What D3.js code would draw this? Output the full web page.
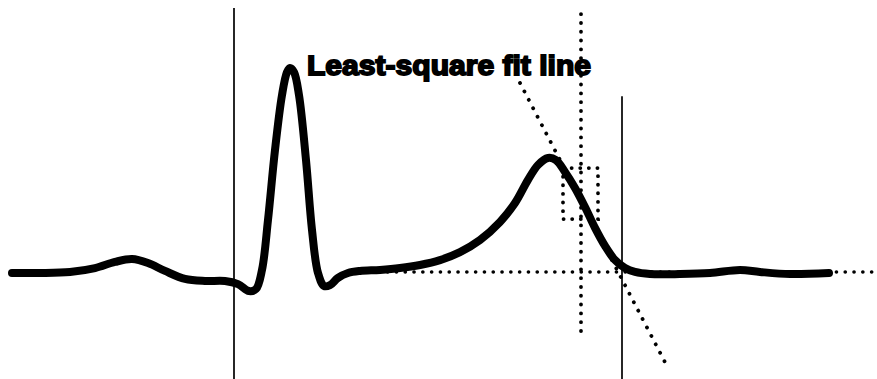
<!DOCTYPE html>
<html>
<head>
<meta charset="utf-8">
<script src="https://cdn.jsdelivr.net/npm/d3@7"></script>
<style>
  html, body { margin: 0; padding: 0; background: #fff; }
  svg { display: block; }
</style>
</head>
<body>
<svg id="chart" width="877" height="379"></svg>
<script>
// ECG trace: time (ms) and amplitude (normalised, R peak = 1)
const timeMs = [0,28,58,83,103,120,136,153,173,193,213,226,237,244,250,256,263,270,275,278,282,287,294,300,306,312,318,326,336,348,368,388,408,428,448,468,488,503,516,526,536,544,553,563,573,583,593,603,613,623,638,668,698,728,748,778,817];
const amplitude = [0,0,0.005,0.024,0.054,0.068,0.049,0.01,-0.029,-0.039,-0.039,-0.054,-0.088,-0.078,0.015,0.259,0.6,0.868,0.98,1.0,0.98,0.868,0.551,0.21,0,-0.063,-0.059,-0.024,0,0.01,0.015,0.024,0.039,0.063,0.102,0.161,0.249,0.341,0.454,0.527,0.561,0.551,0.493,0.415,0.322,0.22,0.132,0.063,0.024,0.005,-0.005,-0.005,0,0.015,0.005,-0.005,0];

// Annotation markers
const solidMarkersMs = [222, 610];          // vertical solid lines
const solidMarkerTop = [1.293, 0.862];      // their top amplitude
const dottedMarkerMs = [569];               // vertical dotted line
const dottedMarkerRange = [1.263, -0.302];
const baselineRange = [358, 865];           // horizontal dotted baseline (ms)
const baselineLevel = [0.005];
const fitLineMs = [508, 655];               // least-square fit line ends
const fitLineAmp = [0.927, -0.454];
const boxMs = [551, 586];
const boxAmp = [0.512, 0.263];
const labelText = ["Least-square fit line"];
const labelPos = [295, 0.966];

const svg = d3.select("#chart");
const x = d3.scaleLinear().domain([0, 817]).range([12, 829]);
const y = d3.scaleLinear().domain([0, 1]).range([273, 68]);
const yBottom = -0.52;

const dotted = "0.1 8.7";

// vertical solid lines
svg.selectAll("line.solid").data(solidMarkersMs).enter().append("line")
  .attr("class", "solid")
  .attr("x1", d => x(d)).attr("x2", d => x(d))
  .attr("y1", (d, i) => y(solidMarkerTop[i])).attr("y2", y(yBottom))
  .attr("stroke", "#000").attr("stroke-width", 1.7);

// vertical dotted line
svg.selectAll("line.vdot").data(dottedMarkerMs).enter().append("line")
  .attr("class", "vdot")
  .attr("x1", d => x(d)).attr("x2", d => x(d))
  .attr("y1", y(dottedMarkerRange[0])).attr("y2", y(dottedMarkerRange[1]))
  .attr("stroke", "#000").attr("stroke-width", 3.8)
  .attr("stroke-linecap", "round").attr("stroke-dasharray", dotted);

// horizontal dotted baseline
svg.selectAll("line.hdot").data(baselineLevel).enter().append("line")
  .attr("class", "hdot")
  .attr("x1", x(baselineRange[0])).attr("x2", x(baselineRange[1]))
  .attr("y1", d => y(d)).attr("y2", d => y(d))
  .attr("stroke", "#000").attr("stroke-width", 3.6)
  .attr("stroke-linecap", "round").attr("stroke-dasharray", dotted);

// least-square fit line
svg.append("line")
  .attr("x1", x(fitLineMs[0])).attr("x2", x(fitLineMs[1]))
  .attr("y1", y(fitLineAmp[0])).attr("y2", y(fitLineAmp[1]))
  .attr("stroke", "#000").attr("stroke-width", 3.8)
  .attr("stroke-linecap", "round").attr("stroke-dasharray", "0.1 9.4");

// dotted box
svg.append("rect")
  .attr("x", x(boxMs[0])).attr("y", y(boxAmp[0]))
  .attr("width", x(boxMs[1]) - x(boxMs[0]))
  .attr("height", y(boxAmp[1]) - y(boxAmp[0]))
  .attr("fill", "none").attr("stroke", "#000").attr("stroke-width", 3.8)
  .attr("stroke-linecap", "round").attr("stroke-dasharray", "0.1 8.5");

// ECG trace
const pts = timeMs.map((t, i) => [t, amplitude[i]]);
const line = d3.line().x(d => x(d[0])).y(d => y(d[1])).curve(d3.curveCatmullRom.alpha(0.5));
svg.append("path").datum(pts)
  .attr("d", line)
  .attr("fill", "none").attr("stroke", "#000")
  .attr("stroke-width", 8).attr("stroke-linecap", "round").attr("stroke-linejoin", "round");

// label
svg.selectAll("text.lbl").data(labelText).enter().append("text")
  .attr("class", "lbl")
  .attr("x", x(labelPos[0])).attr("y", y(labelPos[1]))
  .attr("font-family", "'Liberation Sans', Arial, sans-serif")
  .attr("font-weight", "bold").attr("font-size", 28)
  .attr("textLength", 284).attr("lengthAdjust", "spacingAndGlyphs")
  .attr("stroke", "#000").attr("stroke-width", 1.8)
  .attr("fill", "#000")
  .text(d => d);
</script>
</body>
</html>
